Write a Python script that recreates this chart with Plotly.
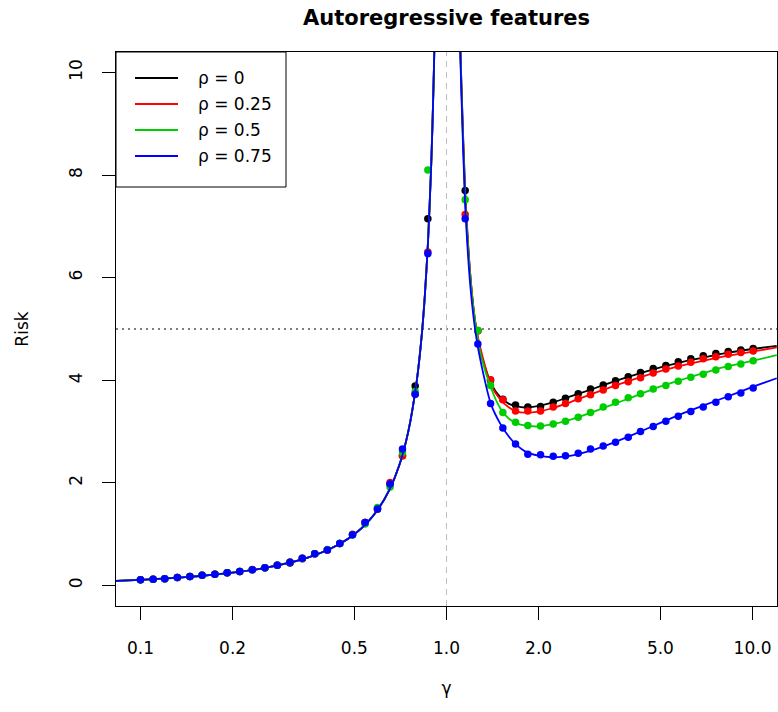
import plotly.graph_objects as go

# ---------------- data ----------------
series_names = ["ρ = 0", "ρ = 0.25", "ρ = 0.5", "ρ = 0.75"]
series_colors = ["#000000", "#FF0000", "#00CD00", "#0000FF"]

# simulation points: gamma values
gamma_points = [0.1, 0.11, 0.12, 0.132, 0.145, 0.159, 0.175, 0.192, 0.211, 0.232,
                0.255, 0.28, 0.308, 0.338, 0.371, 0.408, 0.448, 0.493, 0.542, 0.595,
                0.654, 0.718, 0.79, 0.869,
                1.151, 1.266, 1.393, 1.528, 1.681, 1.844, 2.029, 2.232, 2.448, 2.694,
                2.955, 3.252, 3.567, 3.925, 4.305, 4.737, 5.209, 5.719, 6.286, 6.902,
                7.589, 8.329, 9.159, 10.05]

risk_points_rho0 = [0.111, 0.123, 0.132, 0.155, 0.174, 0.198, 0.22, 0.247, 0.272, 0.305,
                    0.344, 0.395, 0.44, 0.52, 0.617, 0.694, 0.817, 0.99, 1.23, 1.49,
                    1.98, 2.53, 3.89, 7.15,
                    7.70, 4.97, 4.0, 3.63, 3.52, 3.48, 3.49, 3.57, 3.65, 3.74,
                    3.83, 3.91, 3.99, 4.07, 4.15, 4.23, 4.29, 4.36, 4.42, 4.48,
                    4.52, 4.56, 4.59, 4.62]
risk_points_rho25 = [0.111, 0.123, 0.132, 0.155, 0.174, 0.198, 0.22, 0.247, 0.272, 0.31,
                     0.344, 0.395, 0.46, 0.53, 0.617, 0.694, 0.817, 1.0, 1.23, 1.49,
                     2.01, 2.53, 3.73, 6.50,
                     7.23, 4.96, 4.01, 3.62, 3.40, 3.40, 3.40, 3.48, 3.55, 3.64,
                     3.72, 3.81, 3.90, 3.97, 4.05, 4.14, 4.22, 4.28, 4.35, 4.42,
                     4.46, 4.51, 4.54, 4.57]
risk_points_rho50 = [0.111, 0.123, 0.132, 0.155, 0.174, 0.198, 0.22, 0.247, 0.272, 0.305,
                     0.344, 0.395, 0.454, 0.53, 0.617, 0.70, 0.82, 0.99, 1.20, 1.52,
                     1.92, 2.59, 3.78, 8.10,
                     7.52, 4.97, 3.90, 3.37, 3.18, 3.12, 3.11, 3.15, 3.20, 3.28,
                     3.37, 3.48, 3.57, 3.66, 3.74, 3.83, 3.90, 3.98, 4.06, 4.12,
                     4.20, 4.27, 4.32, 4.38]
risk_points_rho75 = [0.111, 0.123, 0.132, 0.155, 0.174, 0.198, 0.22, 0.247, 0.272, 0.305,
                     0.344, 0.395, 0.454, 0.53, 0.617, 0.694, 0.817, 0.99, 1.23, 1.49,
                     1.98, 2.66, 3.73, 6.47,
                     7.15, 4.71, 3.55, 3.07, 2.76, 2.56, 2.55, 2.52, 2.53, 2.58,
                     2.66, 2.72, 2.79, 2.89, 3.00, 3.10, 3.20, 3.30, 3.39, 3.48,
                     3.57, 3.68, 3.75, 3.85]

# theoretical curves
gamma_curve_left = [0.08, 0.1, 0.13, 0.16, 0.2, 0.25, 0.3, 0.35, 0.4, 0.45, 0.5, 0.55,
                    0.6, 0.65, 0.7, 0.75, 0.8, 0.83, 0.85, 0.87, 0.89, 0.9, 0.91, 0.92]
risk_curve_left = [0.087, 0.111, 0.149, 0.19, 0.25, 0.333, 0.429, 0.538, 0.667, 0.818,
                   1.0, 1.222, 1.5, 1.857, 2.333, 3.0, 4.0, 4.88, 5.67, 6.69, 8.09,
                   9.0, 10.11, 11.5]

gamma_curve_right = [1.09, 1.1, 1.11, 1.12, 1.15, 1.2, 1.25, 1.3, 1.4, 1.5, 1.6, 1.7, 1.8,
                     2.0, 2.2, 2.5, 3.0, 3.5, 4.0, 5.0, 6.0, 7.0, 8.0, 10.0, 12.0]
risk_curve_rho0 = [13.0, 11.5, 10.5, 9.7, 7.75, 5.95, 5.0, 4.49, 3.93, 3.67, 3.54, 3.49,
                   3.47, 3.5, 3.56, 3.67, 3.83, 3.97, 4.08, 4.25, 4.37, 4.45, 4.52,
                   4.61, 4.67]
risk_curve_rho25 = [13.0, 11.5, 10.45, 9.65, 7.65, 5.95, 5.03, 4.55, 3.9, 3.62, 3.47, 3.39,
                    3.37, 3.39, 3.45, 3.56, 3.74, 3.88, 4.0, 4.18, 4.30, 4.39, 4.46,
                    4.56, 4.64]
risk_curve_rho50 = [12.9, 11.4, 10.4, 9.6, 7.6, 5.9, 5.0, 4.45, 3.84, 3.45, 3.25, 3.16,
                    3.12, 3.1, 3.14, 3.22, 3.38, 3.53, 3.66, 3.88, 4.03, 4.15, 4.25,
                    4.38, 4.49]
risk_curve_rho75 = [12.8, 11.3, 10.3, 9.5, 7.45, 5.75, 4.85, 4.3, 3.52, 3.15, 2.9, 2.73,
                    2.62, 2.53, 2.5, 2.52, 2.64, 2.78, 2.92, 3.17, 3.37, 3.52, 3.65,
                    3.87, 4.04]

risk_points = [risk_points_rho0, risk_points_rho25, risk_points_rho50, risk_points_rho75]
risk_curves = [risk_curve_rho0, risk_curve_rho25, risk_curve_rho50, risk_curve_rho75]

x_tick_vals = [0.1, 0.2, 0.5, 1.0, 2.0, 5.0, 10.0]
x_tick_text = ["0.1", "0.2", "0.5", "1.0", "2.0", "5.0", "10.0"]
y_tick_vals = [0, 2, 4, 6, 8, 10]

threshold_risk = 5
interpolation_gamma = 1

FONT = "DejaVu Sans"

# ---------------- figure ----------------
fig = go.Figure()

for name, color, pts, curve in zip(series_names, series_colors, risk_points, risk_curves):
    # left branch
    fig.add_trace(go.Scatter(x=gamma_curve_left, y=risk_curve_left, mode="lines",
                             line=dict(color=color, width=1.8, shape="spline", smoothing=0.6),
                             showlegend=False, hoverinfo="skip"))
    # right branch
    fig.add_trace(go.Scatter(x=gamma_curve_right, y=curve, mode="lines", name=name,
                             line=dict(color=color, width=1.8, shape="spline", smoothing=0.6),
                             showlegend=False))
    fig.add_trace(go.Scatter(x=gamma_points, y=pts, mode="markers", name=name,
                             marker=dict(color=color, size=7.5, line=dict(width=0)),
                             showlegend=False, cliponaxis=True))

# reference lines
fig.add_shape(type="line", xref="paper", yref="y", x0=0, x1=1,
              y0=threshold_risk, y1=threshold_risk, layer="below",
              line=dict(color="black", width=1, dash="2px,4px"))
fig.add_shape(type="line", xref="x", yref="paper", x0=interpolation_gamma,
              x1=interpolation_gamma, y0=0, y1=1, layer="below",
              line=dict(color="#BEBEBE", width=1, dash="6px,5px"))

# manual legend box (R-style)
PX_L, PX_R, PX_T, PX_B = 116, 777, 52, 606
W = PX_R - PX_L
H = PX_B - PX_T

def px(xp):
    return (xp - PX_L) / W

def py(yp):
    return 1 - (yp - PX_T) / H

fig.add_shape(type="rect", xref="paper", yref="paper", x0=px(116), x1=px(286),
              y0=py(187), y1=py(52), fillcolor="white",
              line=dict(color="black", width=1), layer="above")
row_y = [78, 104, 130, 156]
for name, color, ry in zip(series_names, series_colors, row_y):
    fig.add_shape(type="line", xref="paper", yref="paper", x0=px(135), x1=px(178),
                  y0=py(ry), y1=py(ry), line=dict(color=color, width=2.2), layer="above")
    fig.add_annotation(xref="paper", yref="paper", x=px(196), y=py(ry), text=name,
                       showarrow=False, xanchor="left", yanchor="middle",
                       font=dict(family=FONT, size=17, color="black"))

fig.update_layout(
    width=778, height=712,
    margin=dict(l=PX_L, r=778 - PX_R, t=PX_T, b=712 - PX_B),
    paper_bgcolor="white", plot_bgcolor="white",
    font=dict(family=FONT, size=17, color="black"),
    title=dict(text="<b>Autoregressive features</b>", x=0.5, xref="paper",
               y=1 - 18 / 712, yref="container", xanchor="center", yanchor="middle",
               font=dict(family=FONT, size=21, color="black")),
    showlegend=False,
)
fig.update_xaxes(type="log", range=[-1.08, 1.08], tickvals=x_tick_vals, ticktext=x_tick_text,
                 ticks="outside", ticklen=13, tickwidth=1, tickcolor="black",
                 showline=True, mirror=True, linecolor="black", linewidth=1,
                 showgrid=False, zeroline=False, tickfont=dict(family=FONT, size=17),
                 ticklabelstandoff=14,
                 title=dict(text="γ", font=dict(family=FONT, size=17), standoff=24))
fig.update_yaxes(range=[-0.4, 10.4], tickvals=y_tick_vals, tickangle=-90,
                 ticks="outside", ticklen=13, tickwidth=1, tickcolor="black",
                 showline=True, mirror=True, linecolor="black", linewidth=1,
                 showgrid=False, zeroline=False, tickfont=dict(family=FONT, size=17),
                 ticklabelstandoff=13,
                 title=dict(text="Risk", font=dict(family=FONT, size=17), standoff=33))

fig.write_html("out.html")
